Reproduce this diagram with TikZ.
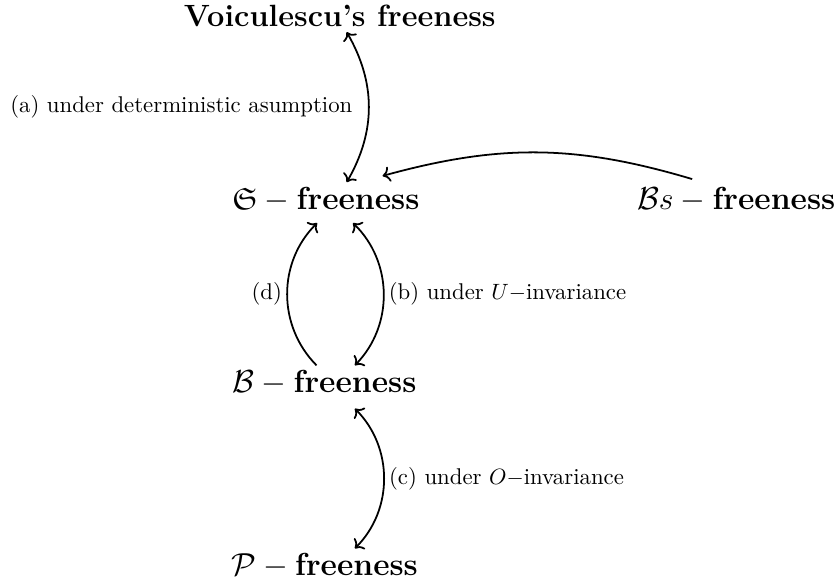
\documentclass[tikz,border=0pt]{standalone}
\usepackage{amsmath,amssymb}
\usepackage{tikz}
\usetikzlibrary{arrows.meta,positioning}
\tikzset{
  freebox/.style={font=\fontsize{13.9}{16}\selectfont\bfseries, inner sep=2pt},
  link/.style={thick},
  lab/.style={font=\fontsize{10.3}{12}\selectfont, inner sep=2pt},
}
\begin{document}
\begin{tikzpicture}
    \useasboundingbox (0,0) rectangle (13.27,9.26);
    \node[freebox] (voic) at (5.40,9.00) {Voiculescu's freeness};
    \node[freebox] (sfree) at (5.18,6.09) {$\mathfrak{S}-\mathbf{freeness}$};
    \node[freebox] (bsfree) at (11.70,6.09) {$\mathcal{B}s-\mathbf{freeness}$};
    \node[freebox] (bfree) at (5.16,3.18) {$\mathcal{B}-\mathbf{freeness}$};
    \node[freebox] (pfree) at (5.16,0.27) {$\mathcal{P}-\mathbf{freeness}$};
    \draw[link,<->] ([xshift=1.1mm]voic.south) to[bend left=30]
      node[lab,midway,left=1.75mm] {(a) under deterministic asumption} ([xshift=3.3mm]sfree.north);
    \draw[link,->] ([xshift=-7mm,yshift=0.5mm]bsfree.north) to[bend right=16] ([xshift=9mm,yshift=1mm]sfree.north);
    \draw[link,->] ([xshift=-1.3mm]bfree.north) to[bend left=45]
      node[lab,left] {(d)} ([xshift=-1.4mm,yshift=-1mm]sfree.south);
    \draw[link,<->] ([xshift=4.3mm,yshift=-1mm]sfree.south) to[bend left=45]
      node[lab,right] {(b) under $U-$invariance} ([xshift=4.8mm]bfree.north);
    \draw[link,<->] ([xshift=4.8mm,yshift=-1.4mm]bfree.south) to[bend left=45]
      node[lab,right] {(c) under $O-$invariance} ([xshift=4.8mm]pfree.north);
  \end{tikzpicture}
\end{document}
